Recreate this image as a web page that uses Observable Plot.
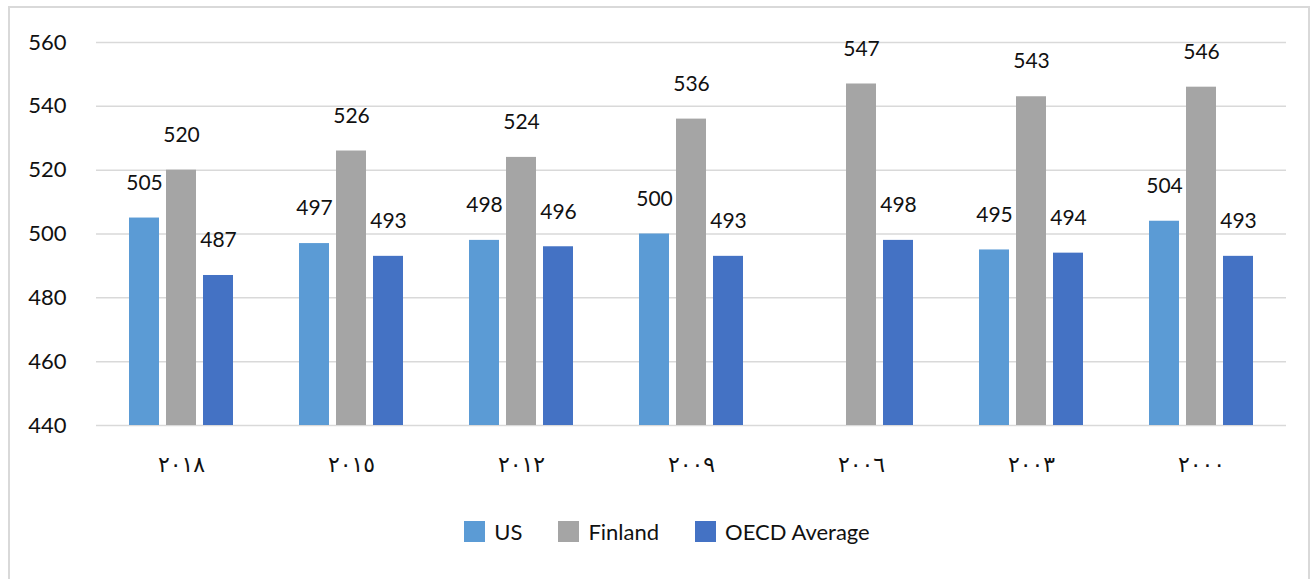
<!DOCTYPE html>
<html>
<head>
<meta charset="utf-8">
<script src="https://cdn.jsdelivr.net/npm/d3@7"></script>
<script src="https://cdn.jsdelivr.net/npm/@observablehq/plot@0.6"></script>
<style>
  html, body { margin: 0; padding: 0; background: #fff; }
  #frame {
    position: absolute; left: 8px; top: 6px; width: 1302px; height: 580px;
    border: 2px solid #d9d9d9; box-sizing: border-box;
  }
  #chart { position: absolute; left: 0; top: 0; }
  #legend {
    position: absolute; left: 10px; top: 518px; width: 1314px;
    display: flex; justify-content: center; gap: 36px;
    font-family: Lato, "Open Sans", sans-serif; font-size: 22px; color: #111;
  }
  .item { display: flex; align-items: center; gap: 9px; }
  .sw { width: 21px; height: 21px; display: inline-block; }
</style>
</head>
<body>
<div id="frame"></div>
<div id="chart"></div>
<div id="legend"></div>
<script>
// PISA scores by survey year
const years = ["٢٠١٨", "٢٠١٥", "٢٠١٢", "٢٠٠٩", "٢٠٠٦", "٢٠٠٣", "٢٠٠٠"];
const seriesNames = ["US", "Finland", "OECD Average"];
const usScores = [505, 497, 498, 500, null, 495, 504];
const finlandScores = [520, 526, 524, 536, 547, 543, 546];
const oecdScores = [487, 493, 496, 493, 498, 494, 493];
const yTicks = [440, 460, 480, 500, 520, 540, 560];
const colors = ["#5b9bd5", "#a5a5a5", "#4472c4"];

const columns = [usScores, finlandScores, oecdScores];
const rows = [];
years.forEach((year, i) => {
  seriesNames.forEach((s, j) => {
    const v = columns[j][i];
    if (v != null) rows.push({year, series: s, value: v});
  });
});

const chart = Plot.plot({
  width: 1314,
  height: 510,
  marginLeft: 95,
  marginRight: 27,
  marginTop: 42,
  marginBottom: 85,
  style: {fontFamily: "Lato, 'Open Sans', sans-serif", color: "#111"},
  fx: {domain: years, padding: 0},
  x: {domain: seriesNames, paddingInner: 0.2, paddingOuter: 0.86, axis: null},
  y: {domain: [440, 560]},
  color: {domain: seriesNames, range: colors},
  marks: [
    Plot.gridY(yTicks, {stroke: "#d9d9d9", strokeOpacity: 1, strokeWidth: 1.5}),
    Plot.axisY(yTicks, {tickSize: 0, tickPadding: 30, fontSize: 22, label: null}),
    Plot.axisFx({anchor: "bottom", tickSize: 0, tickPadding: 31, fontSize: 22,
      fontFamily: "'DejaVu Sans', sans-serif", label: null}),
    Plot.barY(rows, {fx: "year", x: "series", y1: 440, y2: "value", fill: "series"}),
    Plot.text(rows, {fx: "year", x: "series", y: "value", text: d => String(d.value),
      dy: -35, fontSize: 21, lineAnchor: "middle", fill: "#111"})
  ]
});
document.getElementById("chart").appendChild(chart);

// Legend below the plot
const legend = document.getElementById("legend");
seriesNames.forEach((s, i) => {
  const item = document.createElement("span");
  item.className = "item";
  const sw = document.createElement("span");
  sw.className = "sw";
  sw.style.background = colors[i];
  const label = document.createElement("span");
  label.textContent = s;
  item.append(sw, label);
  legend.appendChild(item);
});
</script>
</body>
</html>
